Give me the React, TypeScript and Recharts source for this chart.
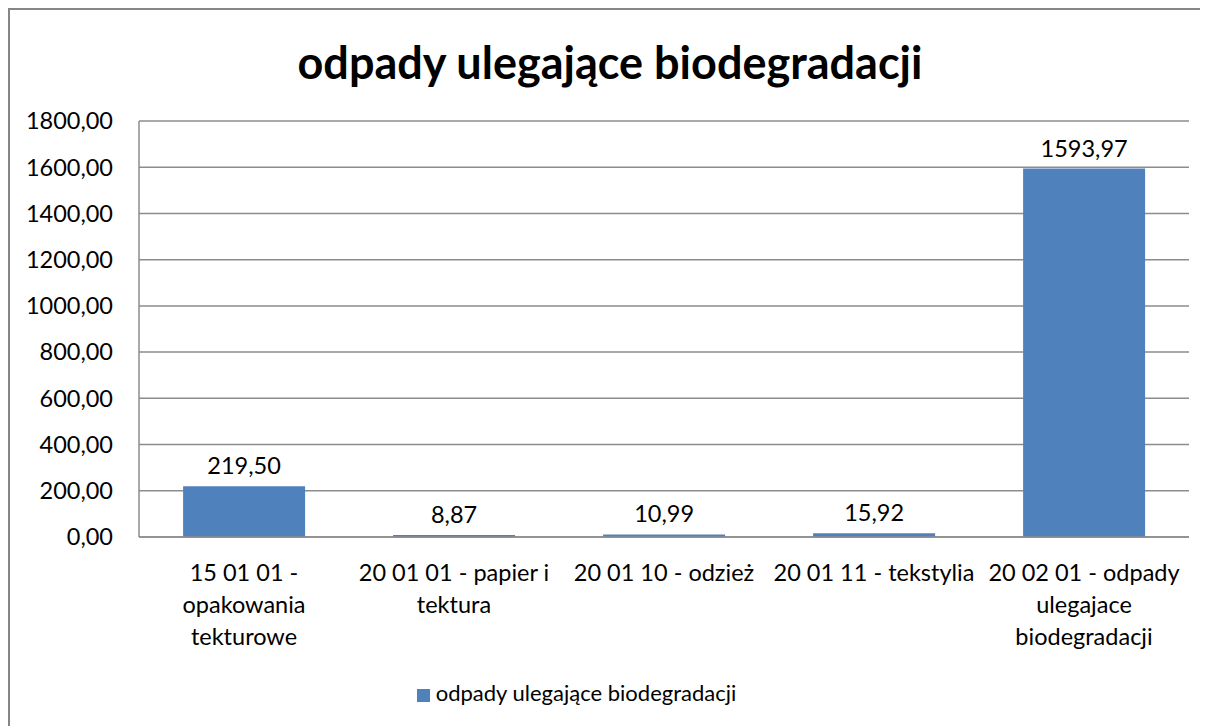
import { BarChart, Bar, XAxis, YAxis, CartesianGrid, Legend, LabelList } from 'recharts';

const categories = [
  '15 01 01 - opakowania tekturowe',
  '20 01 01 - papier i tektura',
  '20 01 10 - odzież',
  '20 01 11 - tekstylia',
  '20 02 01 - odpady ulegajace biodegradacji',
];
// wrapped tick labels, as drawn under each category
const tickLines = [
  ['15 01 01 -', 'opakowania', 'tekturowe'],
  ['20 01 01 - papier i', 'tektura'],
  ['20 01 10 - odzież'],
  ['20 01 11 - tekstylia'],
  ['20 02 01 - odpady', 'ulegajace', 'biodegradacji'],
];
const values = [219.5, 8.87, 10.99, 15.92, 1593.97];
const yTicks = [0, 200, 400, 600, 800, 1000, 1200, 1400, 1600, 1800];
const seriesName = 'odpady ulegające biodegradacji';

const FONT = 'Lato, "Open Sans", sans-serif';
const fmt = (v: number) => v.toFixed(2).replace('.', ',');

const data = categories.map((c, i) => ({ name: c, value: values[i] }));

function CategoryTick(props: any) {
  const { x, y, payload } = props;
  const lines = tickLines[payload.index] || [payload.value];
  return (
    <text x={x} y={y} textAnchor="middle" fill="#000" fontSize={23.5} fontFamily={FONT}>
      {lines.map((l, i) => (
        <tspan key={i} x={x} dy={i === 0 ? 36 : 32}>{l}</tspan>
      ))}
    </text>
  );
}

export default function App() {
  // the frame runs past the window on the right and bottom, as in the source image
  document.documentElement.style.overflow = 'hidden';
  return (
    <div style={{ width: 1200, height: 718, overflow: 'hidden', position: 'relative', background: '#fff' }}>
      <div style={{ position: 'absolute', left: 0, top: 0, width: 1200, height: 2, background: '#868686' }} />
      <div style={{ position: 'absolute', left: 0, top: 0, width: 2, height: 718, background: '#868686' }} />
      <div style={{ position: 'absolute', top: 29, left: 2, width: 1200, textAlign: 'center', fontSize: 45, fontWeight: 700, color: '#000', lineHeight: '50px', fontFamily: FONT }}>
        {seriesName}
      </div>
      <div style={{ position: 'absolute', left: 2, top: 2 }}>
        <BarChart width={1200} height={718} data={data} margin={{ top: 111, right: 21, left: 0, bottom: 10 }} barCategoryGap="21%">
          <CartesianGrid vertical={false} stroke="#8c8c8c" strokeWidth={1.5} />
          <XAxis dataKey="name" interval={0} height={131} axisLine={{ stroke: '#8c8c8c', strokeWidth: 1.5 }} tickLine={false} tick={<CategoryTick />} />
          <YAxis
            width={129}
            domain={[0, 1800]}
            ticks={yTicks}
            tickFormatter={fmt}
            axisLine={{ stroke: '#8c8c8c', strokeWidth: 1.5 }}
            tickLine={false}
            tickSize={0}
            tickMargin={26}
            tick={{ fill: '#000', fontSize: 23.5, fontFamily: FONT }}
          />
          <Legend
            verticalAlign="bottom"
            iconType="square"
            iconSize={13}
            wrapperStyle={{ height: 50, lineHeight: '50px', fontSize: 22, fontFamily: FONT, marginLeft: -18 }}
            formatter={(v) => <span style={{ color: '#000', marginLeft: 2 }}>{v}</span>}
          />
          <Bar dataKey="value" name={seriesName} fill="#4F81BD" isAnimationActive={false}>
            <LabelList dataKey="value" position="top" offset={12} formatter={(v: any) => fmt(Number(v))} fill="#000" fontSize={23.5} fontFamily={FONT} />
          </Bar>
        </BarChart>
      </div>
    </div>
  );
}
